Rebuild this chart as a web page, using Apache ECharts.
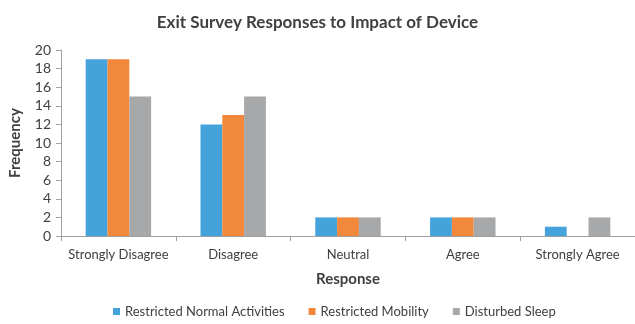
<!DOCTYPE html>
<html><head><meta charset="utf-8">
<script src="https://cdn.jsdelivr.net/npm/echarts@6/dist/echarts.min.js"></script>
<style>html,body{margin:0;padding:0;background:#fff}#c{width:635px;height:324px}</style>
</head><body><div id="c"></div>
<script>
const categories = ["Strongly Disagree","Disagree","Neutral","Agree","Strongly Agree"];
const seriesNames = ["Restricted Normal Activities","Restricted Mobility","Disturbed Sleep"];
const normalActivities = [19,12,2,2,1];
const mobility = [19,13,2,2,0];
const sleep = [15,15,2,2,2];
const colors = ["#45A3DC","#F2883B","#A7A8AA"];
const font = "Lato, 'Open Sans', sans-serif";
const chart = echarts.init(document.getElementById('c'), null, {renderer:'canvas'});
const vals = [normalActivities, mobility, sleep];
chart.setOption({
  animation:false,
  color: colors,
  title:{text:"Exit Survey Responses to Impact of Device", left:'center', top:9,
    textStyle:{fontFamily:font, fontSize:17, fontWeight:'bold', color:'#404040'}},
  legend:{bottom:1, left:108, itemWidth:7, itemHeight:7, itemGap:24, icon:'rect',
    textStyle:{fontFamily:font, fontSize:13, color:'#404040'}},
  grid:{left:56, right:0, top:50, bottom:88, containLabel:false},
  xAxis:{type:'category', data:categories, name:'Response', nameLocation:'middle', nameGap:36,
    nameTextStyle:{fontFamily:font, fontSize:15, fontWeight:'bold', color:'#404040'},
    axisLine:{lineStyle:{color:'#A0A0A0'}}, axisTick:{show:true, length:5, lineStyle:{color:'#A0A0A0'}},
    axisLabel:{fontFamily:font, fontSize:13, color:'#404040', margin:12, interval:0}},
  yAxis:{type:'value', min:0, max:20, interval:2, name:'Frequency', nameLocation:'middle', nameGap:38,
    nameTextStyle:{fontFamily:font, fontSize:15, fontWeight:'bold', color:'#404040'},
    axisLine:{show:true, lineStyle:{color:'#A0A0A0'}}, axisTick:{show:true, length:5, lineStyle:{color:'#A0A0A0'}},
    splitLine:{show:false},
    axisLabel:{fontFamily:font, fontSize:14, color:'#404040', margin:10}},
  series: seriesNames.map((n,i)=>({name:n, type:'bar', data:vals[i], barGap:'0%', barCategoryGap:'43%'}))
});
</script></body></html>
